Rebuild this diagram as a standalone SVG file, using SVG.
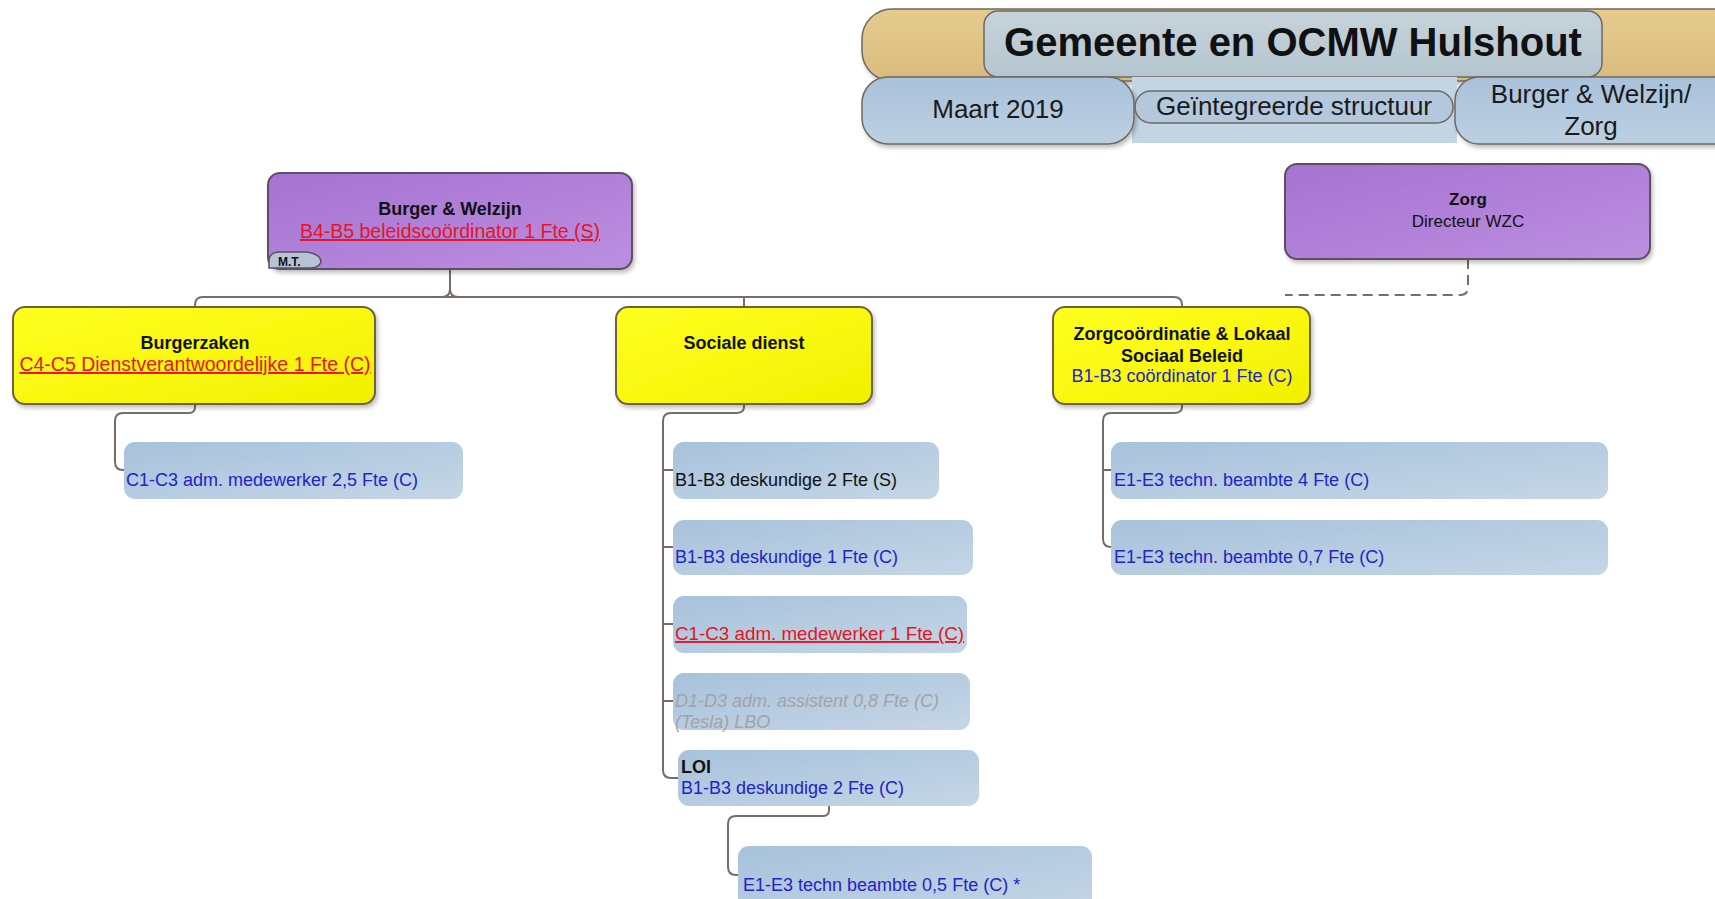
<svg xmlns="http://www.w3.org/2000/svg" width="1715" height="899" viewBox="0 0 1715 899">
<defs>
<linearGradient id="gTan" x1="0" y1="0" x2="0" y2="1"><stop offset="0" stop-color="#E6CB8F"/><stop offset="1" stop-color="#D9BB7E"/></linearGradient>
<linearGradient id="gTitle" x1="0" y1="0" x2="0" y2="1"><stop offset="0" stop-color="#C6D3DA"/><stop offset="1" stop-color="#B4C5CF"/></linearGradient>
<linearGradient id="gHdr" x1="0" y1="0" x2="0" y2="1"><stop offset="0" stop-color="#A9C1DA"/><stop offset="1" stop-color="#BDD0E2"/></linearGradient>
<linearGradient id="gPurple" x1="0" y1="0" x2="1" y2="1"><stop offset="0" stop-color="#A672D2"/><stop offset="1" stop-color="#BC8FE0"/></linearGradient>
<linearGradient id="gYellow" x1="0" y1="0" x2="1" y2="1"><stop offset="0" stop-color="#FFFF20"/><stop offset="1" stop-color="#F2F000"/></linearGradient>
<linearGradient id="gBlue" x1="0" y1="0" x2="1" y2="1"><stop offset="0" stop-color="#A7C2DC"/><stop offset="1" stop-color="#C5D6E6"/></linearGradient>
<filter id="sh" x="-5%" y="-10%" width="115%" height="130%"><feDropShadow dx="2" dy="3" stdDeviation="2" flood-color="#000" flood-opacity="0.25"/></filter>
</defs>
<style>
text{font-family:"Liberation Sans",Arial,sans-serif;font-size:18px;fill:#111}
.b{font-weight:bold}
.c{text-anchor:middle}
.blue{fill:#2323C8}
.red{fill:#E81420;text-decoration:underline;font-size:19.5px}
.grey{fill:#A3A3A3;font-style:italic}
.hdr{font-size:26px;fill:#1A1A1A}
.purple{fill:url(#gPurple);stroke:#5C5062;stroke-width:2}
.yellow{fill:url(#gYellow);stroke:#6E6240;stroke-width:2}
.lb{fill:url(#gBlue)}
.conn path{fill:none;stroke:#7A6C64;stroke-width:2}
.dash{stroke-dasharray:10 6}
</style>
<rect width="1715" height="899" fill="#fff"/>

<g id="header">
<rect x="862" y="9" width="900" height="72" rx="30" fill="url(#gTan)" stroke="#6E6A60" stroke-width="1.5" filter="url(#sh)"/>
<rect x="984" y="11" width="618" height="66" rx="14" fill="url(#gTitle)" stroke="#6E6A60" stroke-width="1.5"/>
<text x="1293" y="56" class="b c" style="font-size:40px">Gemeente en OCMW Hulshout</text>
<rect x="1132" y="77" width="325" height="66" fill="#C3D4E5"/>
<rect x="862" y="77" width="272" height="67" rx="26" fill="url(#gHdr)" stroke="#6E6A60" stroke-width="1.5" filter="url(#sh)"/>
<text x="998" y="118" class="hdr c">Maart 2019</text>
<rect x="1135" y="91" width="318" height="32" rx="16" fill="#B3C8DC" stroke="#6E6A60" stroke-width="1.5"/>
<text x="1294" y="115" class="hdr c">Geïntegreerde structuur</text>
<rect x="1455" y="77" width="300" height="67" rx="24" fill="url(#gHdr)" stroke="#6E6A60" stroke-width="1.5" filter="url(#sh)"/>
<text x="1591" y="103" class="hdr c">Burger &amp; Welzijn/</text>
<text x="1591" y="135" class="hdr c">Zorg</text>
</g>

<g class="conn" id="connectors">
<path d="M195,307 V305 Q195,297 203,297 H1174 Q1182,297 1182,305 V307"/>
<path d="M450,269 V289 Q450,297 442,297 M450,289 Q450,297 458,297"/>
<path d="M744,297 V307"/>
<path d="M195,404 V407 Q195,413 189,413 H123 Q115,413 115,421 V462 Q115,470 123,470 H126"/>
<path d="M744,404 V407 Q744,413 736,413 H671 Q663,413 663,421 V770 Q663,778 671,778 H680"/>
<path d="M663,470 H675 M663,547 H675 M663,624 H675 M663,701 H675"/>
<path d="M829,806 V810 Q829,816 823,816 H736 Q728,816 728,824 V867 Q728,875 736,875 H740"/>
<path d="M1182,404 V407 Q1182,413 1174,413 H1111 Q1103,413 1103,421 V539 Q1103,547 1111,547 H1113 M1103,470 H1113"/>
<path class="dash" d="M1468,259 V287 Q1468,295 1460,295 H1285"/>
</g>

<g id="burger-welzijn">
<rect x="268" y="173" width="364" height="96" rx="12" class="purple" filter="url(#sh)"/>
<text x="450" y="215" class="b c">Burger &amp; Welzijn</text>
<text x="450" y="238" class="c red"> B4-B5 beleidscoördinator 1 Fte (S)</text>
<path d="M269,268 V261 Q269,252 280,252 H306 Q321,254 321,262 Q319,268 310,268 Z" fill="#B8C2D6" stroke="#5C5062" stroke-width="1.5"/>
<text x="278" y="266" class="b" style="font-size:12px">M.T.</text>
</g>

<g id="zorg">
<rect x="1285" y="164" width="365" height="95" rx="12" class="purple" filter="url(#sh)"/>
<text x="1468" y="205" class="b c" style="font-size:17px">Zorg</text>
<text x="1468" y="227" class="c" style="font-size:17px">Directeur WZC</text>
</g>

<g id="burgerzaken">
<rect x="13" y="307" width="362" height="97" rx="12" class="yellow" filter="url(#sh)"/>
<text x="195" y="349" class="b c">Burgerzaken</text>
<text x="195" y="371" class="c red">C4-C5 Dienstverantwoordelijke 1 Fte  (C)</text>
</g>

<g id="sociale-dienst">
<rect x="616" y="307" width="256" height="97" rx="12" class="yellow" filter="url(#sh)"/>
<text x="744" y="349" class="b c">Sociale dienst</text>
</g>

<g id="zorgcoordinatie">
<rect x="1053" y="307" width="257" height="97" rx="12" class="yellow" filter="url(#sh)"/>
<text x="1182" y="340" class="b c">Zorgcoördinatie &amp; Lokaal</text>
<text x="1182" y="362" class="b c">Sociaal Beleid</text>
<text x="1182" y="382" class="c blue">B1-B3 coördinator 1 Fte (C)</text>
</g>

<g id="bz-medewerker">
<rect x="124" y="442" width="339" height="57" rx="11" class="lb"/>
<text x="126" y="486" class="blue">C1-C3 adm. medewerker 2,5 Fte (C)</text>
</g>

<g id="sd-deskundige-2">
<rect x="673" y="442" width="266" height="57" rx="11" class="lb"/>
<text x="675" y="486">B1-B3 deskundige 2 Fte (S)</text>
</g>
<g id="sd-deskundige-1">
<rect x="673" y="520" width="300" height="55" rx="11" class="lb"/>
<text x="675" y="563" class="blue">B1-B3 deskundige 1 Fte (C)</text>
</g>
<g id="sd-medewerker">
<rect x="673" y="596" width="294" height="57" rx="11" class="lb"/>
<text x="675" y="640" class="red" style="font-size:18.8px">C1-C3 adm. medewerker 1 Fte (C)</text>
</g>
<g id="sd-assistent">
<rect x="673" y="673" width="297" height="57" rx="11" class="lb"/>
<text x="675" y="707" class="grey">D1-D3 adm. assistent 0,8 Fte (C)</text>
<text x="675" y="728" class="grey">(Tesla) LBO</text>
</g>
<g id="sd-loi">
<rect x="678" y="750" width="301" height="56" rx="11" class="lb"/>
<text x="681" y="773" class="b">LOI</text>
<text x="681" y="794" class="blue">B1-B3 deskundige 2 Fte (C)</text>
</g>
<g id="loi-beambte">
<rect x="738" y="846" width="354" height="70" rx="11" class="lb"/>
<text x="743" y="891" class="blue">E1-E3 techn beambte 0,5 Fte (C) *</text>
</g>

<g id="zc-beambte-4">
<rect x="1111" y="442" width="497" height="57" rx="11" class="lb"/>
<text x="1114" y="486" class="blue">E1-E3 techn. beambte 4 Fte (C)</text>
</g>
<g id="zc-beambte-07">
<rect x="1111" y="520" width="497" height="55" rx="11" class="lb"/>
<text x="1114" y="563" class="blue">E1-E3 techn. beambte 0,7 Fte (C)</text>
</g>
</svg>
